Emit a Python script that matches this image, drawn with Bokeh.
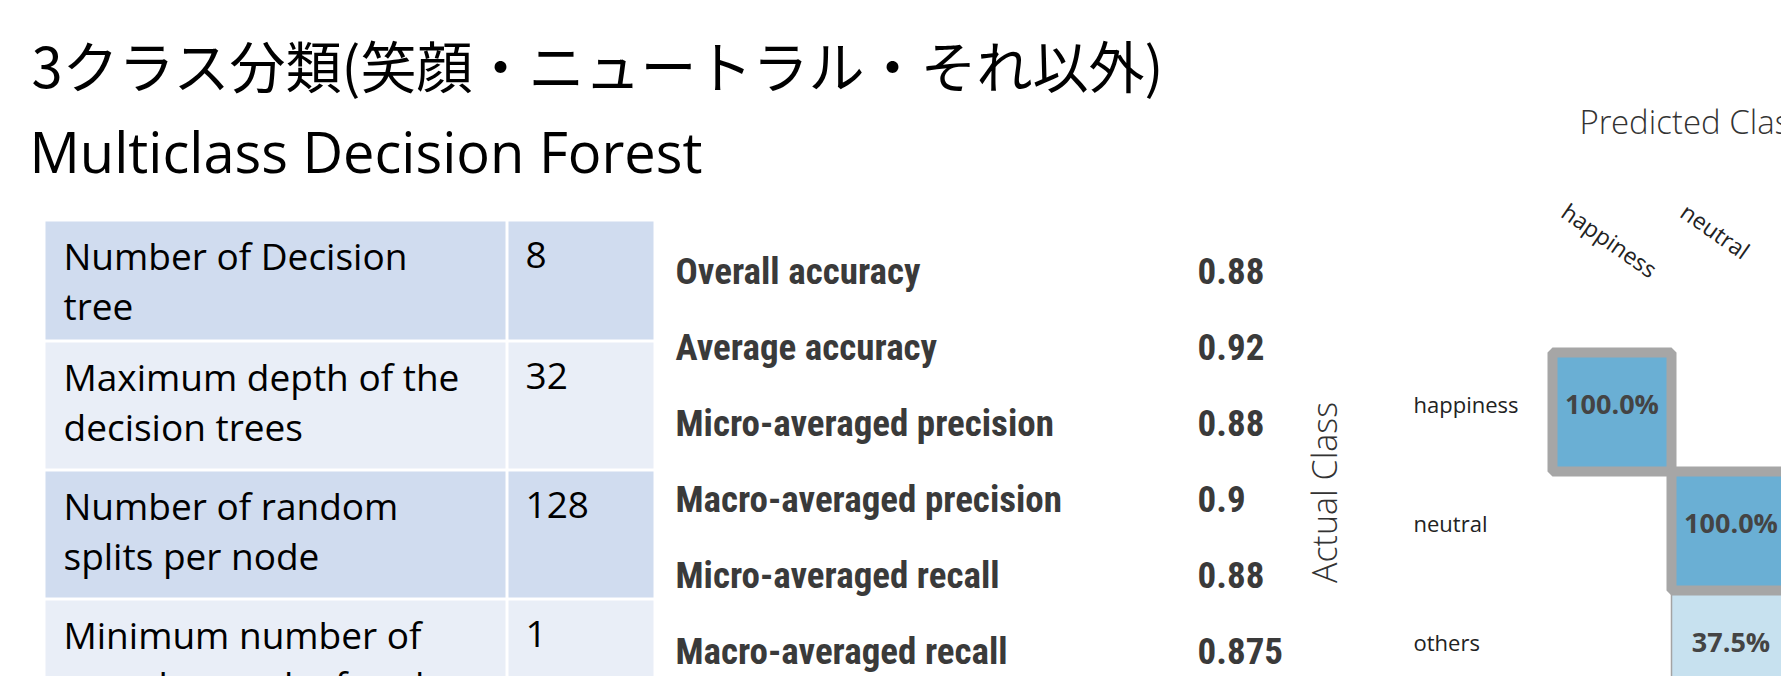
from bokeh.plotting import figure
from bokeh.models import Range1d, ColumnDataSource
from bokeh.core.properties import value
from bokeh.embed import file_html
from bokeh.resources import INLINE

# ---------------- data ----------------
title_jp = "3クラス分類(笑顔・ニュートラル・それ以外)"
title_en = "Multiclass Decision Forest"

param_names = [
    "Number of Decision\ntree",
    "Maximum depth of the\ndecision trees",
    "Number of random\nsplits per node",
    "Minimum number of\nsamples per leaf node",
]
param_values = ["8", "32", "128", "1"]

metric_names = [
    "Overall accuracy",
    "Average accuracy",
    "Micro-averaged precision",
    "Macro-averaged precision",
    "Micro-averaged recall",
    "Macro-averaged recall",
]
metric_values = ["0.88", "0.92", "0.88", "0.9", "0.88", "0.875"]

classes = ["happiness", "neutral", "others"]
# rows = actual class, columns = predicted class (fraction of actual)
confusion = [
    [1.0, 0.0, 0.0],
    [0.0, 1.0, 0.0],
    [0.0, 0.375, 0.625],
]

# ---------------- layout constants ----------------
W, H = 1781, 676
TEXT_FONT = value("'Open Sans'")
JP_FONT = value("'Noto Sans CJK JP'")
NARROW_FONT = value("'Noto Sans Condensed SemiBold', 'Noto Sans SemiCondensed SemiBold', "
                    "'Noto Sans Condensed', 'Roboto Condensed', 'Roboto'")
LIGHT_FONT = value("'Noto Sans Light', 'Open Sans Light', 'Open Sans'")

CELL = 119.0
CM_X0 = 1611.5
CM_Y0 = 411.5

p = figure(width=W, height=H,
           x_range=Range1d(0, W), y_range=Range1d(H, 0),
           output_backend="svg", toolbar_location=None,
           x_axis_location=None, y_axis_location=None, min_border=0)
p.grid.visible = False
p.outline_line_color = None
p.background_fill_color = "white"
p.border_fill_color = "white"
p.extra_x_ranges = {"cmx": Range1d((0 - CM_X0) / CELL, (W - CM_X0) / CELL)}
p.extra_y_ranges = {"cmy": Range1d((H - CM_Y0) / CELL, (0 - CM_Y0) / CELL)}

def mid(baseline, size):
    """vertical centre used with text_baseline='middle' for a given baseline"""
    return baseline - 0.39 * size

# ---------------- titles ----------------
p.text(x=[31], y=[63], text=[title_jp], text_font=JP_FONT, text_font_size="56px",
       text_color="black", text_baseline="middle", text_align="left")
p.text(x=[29], y=[mid(172, 56)], text=[title_en], text_font=TEXT_FONT, text_font_size="56px",
       text_color="black", text_baseline="middle", text_align="left")

# ---------------- parameter table ----------------
TABLE_TOP = 221
row_h = [118, 126, 126, 126]
GAP = 3
tops, bottoms = [], []
y = TABLE_TOP
for h in row_h:
    tops.append(y)
    bottoms.append(y + h)
    y += h + GAP
row_colors = ["#d0dcef" if i % 2 == 0 else "#e9eef7" for i in range(len(param_names))]
p.quad(left=[45] * len(tops), right=[505] * len(tops), top=tops, bottom=bottoms,
       fill_color=row_colors, line_color=None)
p.quad(left=[508] * len(tops), right=[653] * len(tops), top=tops, bottom=bottoms,
       fill_color=row_colors, line_color=None)

l1 = [n.split("\n")[0] for n in param_names]
l2 = [n.split("\n")[1] for n in param_names]
base1 = [mid(t + 48, 37) for t in tops]
base2 = [mid(t + 98, 37) for t in tops]
for txts, ys in ((l1, base1), (l2, base2)):
    p.text(x=[63] * len(txts), y=ys, text=txts, text_font=TEXT_FONT, text_font_size="37px",
           text_color="black", text_baseline="middle", text_align="left")
p.text(x=[525] * len(param_values), y=base1, text=param_values, text_font=TEXT_FONT,
       text_font_size="37px", text_color="black", text_baseline="middle", text_align="left")

# ---------------- metrics ----------------
mb = [mid(285 + 76 * i, 37) for i in range(len(metric_names))]
p.text(x=[675] * len(metric_names), y=mb, text=metric_names, text_font=NARROW_FONT,
       text_font_size="37px", text_font_style="bold", text_color="#3a3a3a",
       text_baseline="middle", text_align="left")
p.text(x=[1197] * len(metric_values), y=mb, text=metric_values, text_font=NARROW_FONT,
       text_font_size="37px", text_font_style="bold", text_color="#3a3a3a",
       text_baseline="middle", text_align="left")

# ---------------- confusion matrix ----------------
BLUE = (106, 175, 212)
def shade(v):
    r = [round(255 - (255 - c) * v) for c in BLUE]
    return "#%02x%02x%02x" % tuple(r)

off = dict(col=[], row=[], color=[], label=[])
diag = dict(col=[], row=[], color=[], label=[])
for i, actual in enumerate(classes):
    for j, pred in enumerate(classes):
        v = confusion[i][j]
        if v <= 0:
            continue
        d = diag if i == j else off
        d["col"].append(j)
        d["row"].append(i)
        d["color"].append(shade(v))
        d["label"].append(f"{v * 100:.1f}%")

src_off = ColumnDataSource(off)
src_diag = ColumnDataSource(diag)
p.rect(x="col", y="row", width=1, height=1, source=src_off, fill_color="color",
       line_color="#a3a3a3", line_width=1.5, x_range_name="cmx", y_range_name="cmy")
p.rect(x="col", y="row", width=1, height=1, source=src_diag, fill_color="color",
       line_color="#a6a6a6", line_width=10, x_range_name="cmx", y_range_name="cmy")
for src in (src_off, src_diag):
    p.text(x="col", y="row", text="label", source=src, y_offset=-9,
           text_font=TEXT_FONT, text_font_size="27px", text_font_style="bold",
           text_color="#444444", text_align="center", text_baseline="middle",
           x_range_name="cmx", y_range_name="cmy")

# row labels (actual class)
p.text(x=[1413] * len(classes), y=list(range(len(classes))), text=classes, y_offset=-8,
       text_font=TEXT_FONT, text_font_size="22px", text_color="#222222",
       text_align="left", text_baseline="middle", y_range_name="cmy")
# column labels (predicted class), rotated
p.text(x=[j - 0.32 for j in range(len(classes))], y=[195] * len(classes), text=classes,
       angle=-35, angle_units="deg",
       text_font=TEXT_FONT, text_font_size="23px", text_color="#222222",
       text_align="left", text_baseline="top", x_range_name="cmx")

# axis titles
p.text(x=[1579], y=[mid(134, 33)], text=["Predicted Class"], text_font=LIGHT_FONT,
       text_font_size="33px", text_color="#333333", text_align="left",
       text_baseline="middle")
p.text(x=[1323], y=[492], text=["Actual Class"], angle=90, angle_units="deg",
       text_font=LIGHT_FONT, text_font_size="34px", text_color="#333333",
       text_align="center", text_baseline="middle")

open("out.html", "w").write(file_html(p, INLINE))
